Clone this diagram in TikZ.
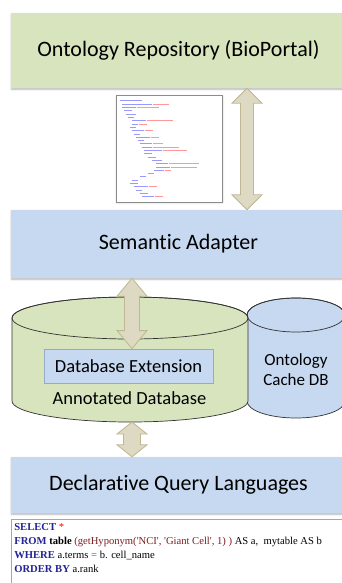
\documentclass[tikz,border=0pt]{standalone}
\usepackage{fontspec}
\setmainfont{Carlito}[Ligatures={TeX,NoCommon}]
\newfontfamily\sqlfont{Liberation Serif}
\usepackage{tikz}
\usetikzlibrary{calc}
\usetikzlibrary{shadows.blur}
\definecolor{repogreen}{RGB}{215,228,189}
\definecolor{layerblue}{RGB}{198,217,241}
\definecolor{arrowtan}{RGB}{221,217,195}
\definecolor{arrowrim}{RGB}{190,183,145}
\definecolor{cylrim}{RGB}{50,50,50}
\definecolor{extrim}{RGB}{150,170,195}
\definecolor{sqlblue}{RGB}{35,35,150}
\definecolor{sqlred}{RGB}{125,30,30}
\tikzstyle{layer}=[rectangle,minimum width=335,inner sep=0,text=black,
  font=\fontsize{22}{26}\selectfont,
  blur shadow={shadow xshift=0.5pt,shadow yshift=-1.2pt,shadow opacity=30,shadow blur steps=4}]
\tikzstyle{extbox}=[draw=extrim,fill=layerblue,line width=0.8,minimum width=169,minimum height=34,
  inner sep=0,font=\fontsize{18.5}{22}\selectfont]
\tikzstyle{dblabel}=[inner sep=0,font=\fontsize{18.5}{22}\selectfont]
\tikzstyle{cyl}=[draw=cylrim,line width=0.7]
\tikzstyle{fatarrow}=[draw=arrowrim,fill=arrowtan,line width=0.8,line join=miter]
\tikzstyle{xmlframe}=[draw=black!45,fill=white,line width=1,inner sep=0,
  blur shadow={shadow xshift=0.6pt,shadow yshift=-0.6pt,shadow opacity=25,shadow blur steps=3}]
\tikzstyle{xmltag}=[draw=blue!40,line width=0.6]
\tikzstyle{xmlatt}=[draw=red!40,line width=0.6]
\tikzstyle{sqlbox}=[draw=black!35,fill=white,line width=0.8,inner sep=0]
\tikzstyle{sqltext}=[inner sep=0,align=left,font=\sqlfont\fontsize{10.6}{14}\selectfont]

% double-headed block arrow: from, to, head half width, shaft half width, head length
\newcommand{\twoway}[5]{%
  \path[fatarrow] let \p1=(#1), \p2=(#2) in
    (\p1) -- (\x1+#3pt,\y1-#5pt) -- (\x1+#4pt,\y1-#5pt) -- (\x2+#4pt,\y2+#5pt)
    -- (\x2+#3pt,\y2+#5pt) -- (\p2) -- (\x2-#3pt,\y2+#5pt) -- (\x2-#4pt,\y2+#5pt)
    -- (\x1-#4pt,\y1-#5pt) -- (\x1-#3pt,\y1-#5pt) -- cycle;}

\begin{document}
\begin{tikzpicture}[x=1pt,y=1pt]
\useasboundingbox (0,0) rectangle (342,-583);

	\node[layer,fill=repogreen,minimum height=75] (repo) at (178.5,-50.5) {Ontology Repository (BioPortal)};
	\node[layer,fill=layerblue,minimum height=68] (adapter) at (178.5,-244) {Semantic Adapter};
	\node[layer,fill=layerblue,minimum height=56] (query) at (178.5,-485) {Declarative Query Languages};

% % % xml snippet
	\node[xmlframe,minimum width=106,minimum height=106] (xml) at (169,-149) {};
	\foreach \ind/\tag/\att [count=\i] in {0/22/0, 2/30/16, 2/14/22, 4/8/0, 6/10/0, 8/6/0,
	    12/14/26, 12/6/8, 10/6/0, 12/12/8, 14/6/0, 16/14/8, 18/6/0, 20/12/10, 22/10/26,
	    24/18/24, 24/8/0, 28/8/0, 32/10/0, 36/12/30, 36/14/26, 34/10/6, 28/6/0, 20/6/0,
	    12/6/0, 10/8/0, 14/14/8, 16/6/0, 20/8/0, 22/12/8}
	{
	\draw[xmltag] ($(xml.north west)+(4+\ind,-2-3.3*\i)$) -- ++(\tag,0);
	\draw[xmlatt] ($(xml.north west)+(5+\ind+\tag,-2-3.3*\i)$) -- ++(\att,0);
	}

% % % databases
	% ontology cache
	\path[cyl,fill=layerblue] (247,-315) -- (247,-401)
	  arc[start angle=180,end angle=360,x radius=49,y radius=17] -- (345,-315)
	  arc[start angle=0,end angle=180,x radius=49,y radius=17] -- cycle;
	\draw[cyl] (296,-315) ellipse[x radius=49,y radius=17];
	% annotated database
	\path[cyl,fill=repogreen] (12,-318) -- (12,-401)
	  arc[start angle=180,end angle=360,x radius=118,y radius=21] -- (248,-318)
	  arc[start angle=0,end angle=180,x radius=118,y radius=21] -- cycle;
	\draw[cyl] (130,-318) ellipse[x radius=118,y radius=21];
	\coordinate (annbot) at (132,-422);

	\node[extbox] (dbext) at (128.5,-366) {Database Extension};
	\node[dblabel] (anndb) at (129.5,-398) {Annotated Database};
	\node[dblabel,align=center,font=\fontsize{17}{20}\selectfont] (cache) at (296,-370) {Ontology\\Cache DB};

% % % arrows
	\coordinate (ax1) at (247,0);
	\coordinate (ax2) at (132,0);
	\twoway{repo.south -| ax1}{adapter.north -| ax1}{15}{6.5}{15}
	\twoway{adapter.south -| ax2}{dbext.north -| ax2}{15}{7.5}{18}
	\twoway{annbot}{query.north -| annbot}{15}{8.5}{12}

% % % query
	\node[sqlbox,minimum width=335,minimum height=80] (sql) at (178.5,-559) {};
	\node[sqltext,anchor=north west] (sqlcode) at ($(sql.north west)+(3.5,-5)$)
	{{\color{sqlblue}\textbf{SELECT}} {\color{red}*}\\
	 {\color{sqlblue}\textbf{FROM}} \textbf{table} {\color{sqlred}(getHyponym(\textquotesingle NCI\textquotesingle, \textquotesingle Giant Cell\textquotesingle, 1) )} AS a,\ \ mytable AS b\\
	 {\color{sqlblue}\textbf{WHERE}} a.terms {\color{red}=} b. cell\_name\\
	 {\color{sqlblue}\textbf{ORDER BY}} a.rank};

\end{tikzpicture}
\end{document}
